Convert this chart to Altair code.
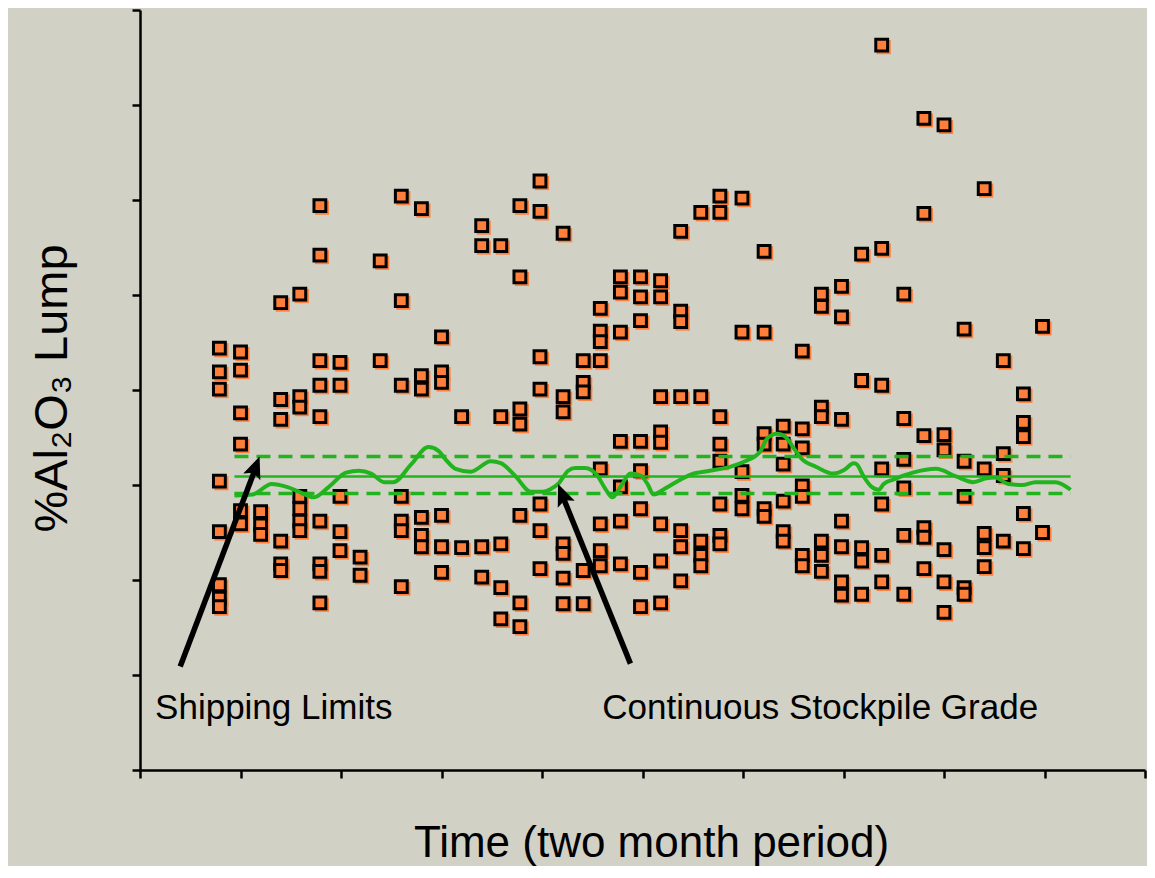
import altair as alt
import pandas as pd

# ---- scatter data: sample columns (time) and the %Al2O3 values read at each ----
col_x = [0.79, 1.00, 1.20, 1.40, 1.59, 1.79, 1.99, 2.19, 2.39, 2.60, 2.80, 3.00,
         3.20, 3.40, 3.59, 3.78, 3.98, 4.21, 4.41, 4.58, 4.78, 4.98, 5.18, 5.38,
         5.58, 5.77, 5.99, 6.21, 6.40, 6.59, 6.78, 6.98, 7.18, 7.38, 7.60, 7.80,
         8.00, 8.20, 8.40, 8.59, 8.79, 8.98]
col_y = [
    [4.44, 4.19, 4.01, 3.04, 2.51, 1.95, 1.81, 1.72],
    [4.40, 4.21, 3.76, 3.43, 2.73, 2.59],
    [2.72, 2.58, 2.48],
    [4.92, 3.90, 3.69, 2.41, 2.17, 2.10],
    [5.01, 3.93, 3.82, 2.88, 2.75, 2.62, 2.52],
    [5.94, 5.42, 4.31, 4.05, 3.72, 2.62, 2.17, 2.09, 1.76],
    [4.29, 4.05, 2.88, 2.51, 2.31],
    [2.24, 2.05],
    [5.36, 4.31],
    [6.04, 4.94, 4.05, 2.88, 2.62, 2.52, 1.93],
    [5.91, 4.15, 4.01, 2.66, 2.47, 2.35],
    [4.56, 4.19, 4.08, 2.68, 2.35, 2.08],
    [3.72, 2.34],
    [5.73, 5.52, 2.35, 2.03],
    [5.52, 3.72, 2.38, 1.92, 1.59],
    [5.94, 5.19, 3.80, 3.64, 2.68, 1.76, 1.51],
    [6.20, 5.88, 4.35, 4.01, 2.80, 2.52, 2.12],
    [5.65, 3.93, 3.77, 2.38, 2.28, 2.02, 1.75],
    [4.31, 4.08, 3.98, 2.10, 1.75],
    [4.86, 4.62, 4.51, 4.31, 3.17, 2.59, 2.31, 2.15],
    [5.19, 5.03, 4.61, 3.46, 2.98, 2.62, 2.17],
    [5.19, 4.98, 4.73, 3.46, 3.15, 2.75, 2.08, 1.72],
    [5.15, 4.98, 3.93, 3.56, 3.45, 2.59, 2.20, 1.76],
    [5.67, 4.83, 4.72, 3.93, 2.52, 2.35, 1.99],
    [5.87, 3.93, 2.41, 2.26, 2.15],
    [6.04, 5.87, 3.72, 3.43, 3.25, 2.80, 2.47, 2.38],
    [6.02, 4.61, 3.14, 2.89, 2.75],
    [5.46, 4.61, 3.54, 3.43, 2.75, 2.67],
    [3.62, 3.43, 3.22, 2.83, 2.51, 2.41],
    [4.41, 3.59, 3.39, 2.99, 2.88, 2.26, 2.15],
    [5.01, 4.88, 3.82, 3.72, 2.41, 2.26, 2.09],
    [5.09, 4.77, 3.69, 2.62, 2.35, 1.98, 1.84],
    [5.43, 4.10, 2.34, 2.20, 1.85],
    [7.63, 5.49, 4.05, 3.17, 2.80, 2.26, 1.98],
    [5.01, 3.70, 3.27, 2.97, 2.47, 1.85],
    [6.86, 5.86, 3.52, 2.55, 2.45, 2.12],
    [6.79, 3.53, 3.37, 2.32, 1.98, 1.66],
    [4.64, 3.25, 2.88, 1.92, 1.85],
    [6.12, 3.17, 2.49, 2.34, 2.14],
    [4.31, 3.33, 3.10, 2.41],
    [3.96, 3.66, 3.51, 2.70, 2.33],
    [4.67, 2.50],
]

# ---- continuous stockpile grade ----
grade_x = [0.94, 1.12, 1.31, 1.46, 1.58, 1.73, 1.88, 2.05, 2.18, 2.30, 2.43, 2.52,
           2.70, 2.87, 2.97, 3.04, 3.14, 3.29, 3.49, 3.59, 3.73, 3.89, 4.01, 4.09,
           4.16, 4.26, 4.33, 4.43, 4.55, 4.63, 4.70, 4.78, 4.88, 4.98, 5.05, 5.11,
           5.22, 5.35, 5.48, 5.67, 5.87, 6.02, 6.17, 6.24, 6.34, 6.42, 6.51, 6.58,
           6.73, 6.90, 7.01, 7.10, 7.13, 7.20, 7.28, 7.35, 7.40, 7.50, 7.69, 7.92,
           8.12, 8.29, 8.42, 8.51, 8.64, 8.78, 8.91, 9.11, 9.26]
grade_y = [2.89, 2.90, 3.01, 2.98, 2.93, 2.87, 2.98, 3.13, 3.15, 3.12, 3.03, 3.03,
           3.22, 3.40, 3.36, 3.27, 3.17, 3.14, 3.25, 3.23, 3.10, 2.93, 2.93, 2.96,
           3.01, 3.15, 3.18, 3.18, 3.10, 2.96, 2.87, 2.98, 3.12, 3.10, 3.01, 2.90,
           2.96, 3.04, 3.11, 3.15, 3.19, 3.25, 3.35, 3.49, 3.54, 3.51, 3.38, 3.28,
           3.19, 3.12, 3.16, 3.23, 3.22, 3.09, 2.98, 2.95, 3.01, 3.06, 3.13, 3.17,
           3.09, 3.03, 3.07, 3.08, 3.01, 3.00, 3.03, 3.03, 2.95]

# ---- shipping limits: target and upper/lower ----
limit_start, limit_end = 0.94, 9.26
target_value = 3.09
limit_values = [3.30, 2.91]

# ---- annotations ----
anno_text = ["Shipping Limits", "Continuous Stockpile Grade"]
anno_x = [0.15, 4.60]
anno_y = [0.65, 0.65]
arrow_tail_x = [0.40, 4.88]
arrow_tail_y = [1.09, 1.12]
arrow_end_x = [1.14, 4.21]
arrow_end_y = [3.15, 2.87]
arrow_tip_x = [1.19, 4.16]
arrow_tip_y = [3.30, 3.01]
arrow_angle = [21, 338]

BG = "#D2D1C6"
ORANGE = "#FF7F3A"
GREEN = "#22B41E"
FONT = "Liberation Sans Narrow, Arial Narrow, Liberation Sans, Arial, sans-serif"

rows = [{"t": x, "v": y} for x, ys in zip(col_x, col_y) for y in ys]
pts = pd.DataFrame(rows)
grade = pd.DataFrame({"t": grade_x, "v": grade_y})
limits = pd.DataFrame({"t": [limit_start] * 2, "t2": [limit_end] * 2, "v": limit_values})
target = pd.DataFrame({"t": [limit_start], "t2": [limit_end], "v": [target_value]})
anno = pd.DataFrame({"t": anno_x, "v": anno_y, "label": anno_text})
arrows = pd.DataFrame({"t": arrow_tail_x, "v": arrow_tail_y,
                       "t2": arrow_end_x, "v2": arrow_end_y,
                       "tx": arrow_tip_x, "ty": arrow_tip_y, "ang": arrow_angle})

xscale = alt.Scale(domain=[0, 10], nice=False, zero=False)
yscale = alt.Scale(domain=[0, 8], nice=False, zero=False)

xaxis = alt.Axis(values=list(range(11)), labels=False, grid=False,
                 tickSize=8, tickWidth=2.5, tickColor="black",
                 domainColor="black", domainWidth=2.5,
                 title="Time (two month period)", titleFont=FONT,
                 titleFontSize=44, titleFontWeight="normal", titleColor="black",
                 titleX=511, titleY=86, titleBaseline="alphabetic", titleAlign="center")
yaxis = alt.Axis(values=list(range(9)), labels=False, grid=False,
                 tickSize=8, tickWidth=2.5, tickColor="black",
                 domainColor="black", domainWidth=2.5,
                 title="%Al₂O₃ Lump", titleFont=FONT,
                 titleFontSize=47, titleFontWeight="normal", titleColor="black",
                 titleAngle=270, titleX=-74, titleY=378,
                 titleBaseline="alphabetic", titleAlign="center")

X = alt.X("t:Q", scale=xscale, axis=xaxis)
Y = alt.Y("v:Q", scale=yscale, axis=yaxis)

shadow = alt.Chart(pts).mark_square(size=200, color=ORANGE, opacity=1,
                                    xOffset=2, yOffset=2, filled=True).encode(x=X, y=Y)
squares = alt.Chart(pts).mark_square(size=140, fill=ORANGE, filled=True, opacity=1,
                                     stroke="black", strokeWidth=3).encode(
    x=alt.X("t:Q", scale=xscale), y=alt.Y("v:Q", scale=yscale))

limit_lines = alt.Chart(limits).mark_rule(color=GREEN, strokeWidth=3.5,
                                          strokeDash=[14, 8]).encode(
    x=alt.X("t:Q", scale=xscale), x2="t2:Q", y=alt.Y("v:Q", scale=yscale))
target_line = alt.Chart(target).mark_rule(color=GREEN, strokeWidth=2.5).encode(
    x=alt.X("t:Q", scale=xscale), x2="t2:Q", y=alt.Y("v:Q", scale=yscale))
grade_line = alt.Chart(grade).mark_line(color=GREEN, strokeWidth=4,
                                        interpolate="monotone").encode(
    x=alt.X("t:Q", scale=xscale), y=alt.Y("v:Q", scale=yscale))

arrow_shafts = alt.Chart(arrows).mark_rule(color="black", strokeWidth=5.5,
                                           strokeCap="butt").encode(
    x=alt.X("t:Q", scale=xscale), y=alt.Y("v:Q", scale=yscale), x2="t2:Q", y2="v2:Q")
arrow_heads = alt.Chart(arrows).mark_point(
    shape="M0,0 L-0.42,1 L0,0.8 L0.42,1 Z", size=1900, filled=True,
    color="black", opacity=1).encode(
    x=alt.X("tx:Q", scale=xscale), y=alt.Y("ty:Q", scale=yscale),
    angle=alt.Angle("ang:Q", scale=None))

labels = alt.Chart(anno).mark_text(font=FONT, fontSize=35, align="left",
                                   baseline="middle", color="black").encode(
    x=alt.X("t:Q", scale=xscale), y=alt.Y("v:Q", scale=yscale), text="label:N")

chart = alt.layer(shadow, squares, limit_lines, target_line, grade_line,
                  arrow_shafts, arrow_heads, labels).properties(
    width=1005, height=760,
    autosize=alt.AutoSizeParams(type="none"),
    padding={"left": 132, "top": 2, "right": 2, "bottom": 96},
    background=BG,
).configure_view(stroke=None)

chart.save("out.html", embed_options={"renderer": "svg", "actions": False})
